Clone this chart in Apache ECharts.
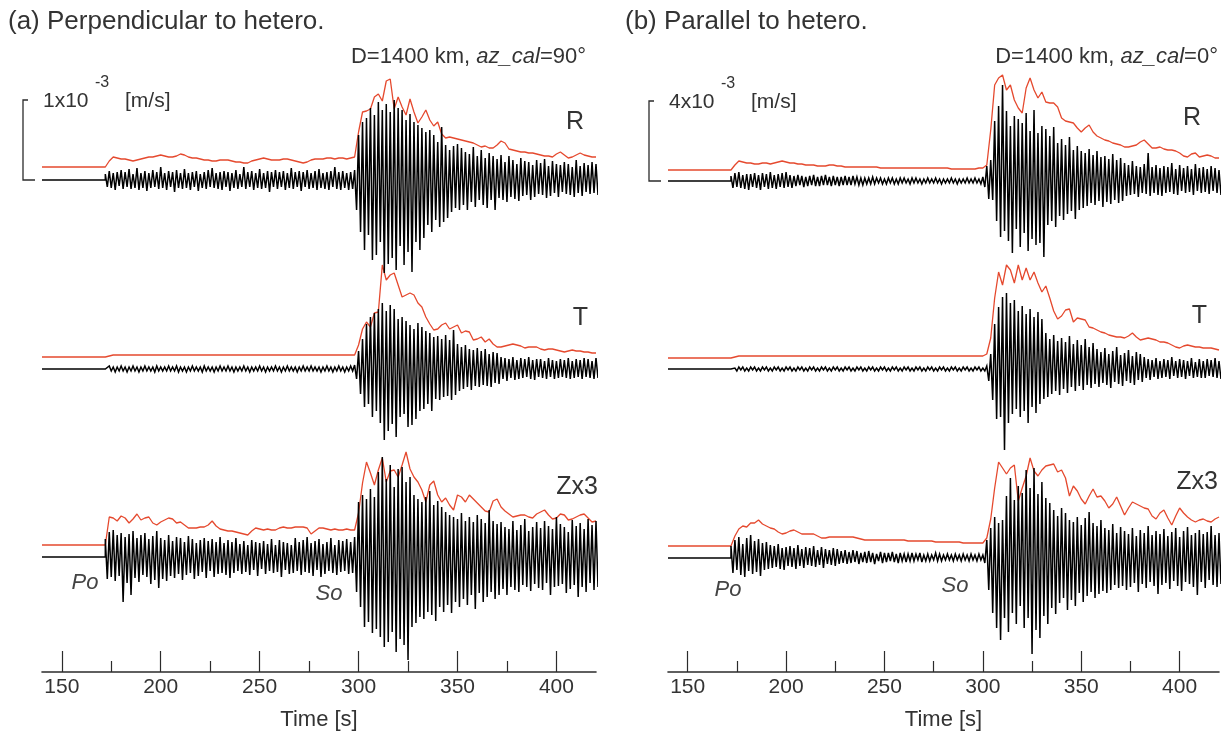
<!DOCTYPE html>
<html><head><meta charset="utf-8">
<script src="https://cdn.jsdelivr.net/npm/echarts@6/dist/echarts.min.js"></script>
<style>html,body{margin:0;padding:0;background:#fff}#c{width:1228px;height:738px}</style>
</head><body><div id="c"></div>
<script>
// ---------------- DATA ----------------
// time axis
const tStart = 140, tEnd = 420;
const majorTicks = [150, 200, 250, 300, 350, 400];
const minorTicks = [175, 225, 275, 325, 375];
const onsetP = 172;      // s, time of the first sample of every trace / envelope
const traceStep = 1;     // s between trace samples
const envStep = 2;       // s between envelope samples
// amplitude unit: scale bar = 80 units (left: 1e-3 m/s, right: 4e-3 m/s); Z shown x3
const scaleBarUnits = 80;
const panelTitles = ['(a) Perpendicular to hetero.', '(b) Parallel to hetero.'];
const azLabels = ['90', '0'];
const scaleLabels = ['1x10', '4x10'];
const componentLabels = ['R', 'T', 'Zx3'];
const phaseLabels = ['Po', 'So'];

// (a) perpendicular — velocity traces, 1 s samples from 172 s
const perpR = [
6,-7,9,-8,7,-10,8,-6,10,-9, 8,-7,11,-9,6,-8,12,-10,7,-8, 9,-11,7,-8,10,-7,8,-9,13,-8,
7,-10,9,-7,8,-12,10,-8,7,-9, 11,-8,7,-10,8,-7,9,-11,6,-8, 8,-9,10,-7,12,-8,7,-9,8,-10,
9,-7,8,-11,7,-8,10,-9,6,-7, 13,-9,8,-7,9,-10,7,-8,11,-9, 7,-8,9,-12,8,-7,10,-9,8,-7,
9,-10,7,-8,12,-9,8,-7,9,-11, 8,-7,10,-9,7,-8,9,-10,11,-8, 7,-9,8,-10,9,-7,13,-9,8,-10,
9,-8,7,-10,8,-9,10,-30,45,-52, 58,-70,62,-55,72,-80,65,-75,78,-62, 70,-93,76,-84,68,-78,80,-90,72,-66,
70,-85,60,-72,66,-92,58,-62,55,-70, 52,-58,48,-45,50,-52,45,-40,38,-47, 53,-42,35,-38,30,-32,34,-28,36,-30,
32,-25,28,-30,26,-22,33,-27,24,-20, 30,-25,22,-28,27,-20,24,-30,21,-18, 25,-20,18,-22,24,-17,20,-19,16,-21,
22,-16,19,-15,18,-20,15,-17,20,-14, 17,-15,21,-18,14,-16,19,-13,16,-17, 15,-12,18,-14,16,-15,13,-17,20,-13,
14,-16,17,-12,15,-14,18,-13,16,-15];
const perpT = [
2,-2,3,-2,2,-3,2,-2,3,-2, 2,-3,2,-2,3,-2,2,-3,2,-2, 3,-2,2,-2,2,-3,3,-2,2,-2,
2,-2,3,-2,2,-2,3,-3,2,-2, 2,-3,2,-2,3,-2,2,-2,2,-3, 3,-2,2,-2,2,-3,2,-2,3,-2,
2,-2,3,-2,2,-3,2,-2,2,-2, 3,-2,2,-3,2,-2,2,-2,3,-2, 2,-3,2,-2,2,-2,3,-2,2,-3,
2,-2,3,-2,2,-2,2,-3,2,-2, 3,-2,2,-2,3,-2,2,-2,2,-3, 2,-2,3,-2,2,-3,2,-2,3,-2,
2,-3,2,-2,3,-2,4,-10,18,-25, 30,-38,45,-35,52,-48,56,-42,60,-54, 66,-71,58,-62,64,-55,60,-68,50,-48,
52,-45,48,-58,44,-56,40,-50,46,-42, 42,-40,38,-35,36,-42,32,-30,33,-31, 30,-28,34,-27,29,-31,39,-26,25,-22,
22,-20,24,-18,20,-21,19,-17,21,-18, 18,-16,20,-17,15,-18,17,-14,16,-15, 12,-10,11,-12,10,-9,12,-11,9,-10,
11,-9,10,-8,12,-10,9,-11,10,-8, 10,-9,8,-10,11,-8,9,-10,8,-9, 10,-8,9,-9,11,-10,8,-9,10,-8,
9,-10,11,-8,10,-9,8,-10,11,-9];
const perpZ3 = [
18,-22,25,-20,27,-24,22,-19,24,-45, 20,-26,23,-38,26,-21,19,-25,22,-18, 24,-20,18,-27,21,-23,26,-31,19,-22,
17,-24,22,-19,16,-21,20,-17,19,-23, 15,-18,21,-16,18,-22,14,-19,17,-15, 19,-21,16,-14,18,-20,15,-17,20,-16,
14,-18,17,-21,15,-16,19,-14,13,-17, 16,-15,12,-18,17,-13,15,-19,14,-12, 16,-17,13,-14,18,-16,12,-15,17,-20,
15,-13,14,-17,12,-16,19,-14,15,-18, 17,-15,20,-16,14,-19,16,-13,18,-20, 13,-17,15,-14,19,-16,12,-18,17,-15,
16,-14,18,-17,15,-16,20,-35,55,-50, 62,-70,58,-65,68,-76,60,-72,85,-80, 100,-90,78,-85,92,-75,70,-95,88,-82,
90,-88,75,-103,80,-70,62,-66,58,-60, 55,-62,60,-55,66,-58,52,-64,56,-50, 50,-55,45,-48,42,-56,40,-45,38,-50,
44,-42,36,-48,40,-38,35,-52,42,-36, 38,-45,34,-40,47,-35,36,-42,33,-38, 35,-32,30,-38,28,-30,36,-33,27,-35,
32,-28,38,-30,26,-34,30,-27,35,-31, 29,-33,36,-26,31,-38,28,-30,40,-29, 33,-27,30,-36,25,-32,37,-28,31,-40,
34,-30,28,-35,38,-26,32,-33,36,-30];
// (a) envelopes, 2 s samples from 172 s
const perpREnv = [
0,6,10,9,8,8,7,6,7,8, 9,10,10,11,12,11,10,10,11,13, 12,10,9,9,8,7,7,6,6,7, 7,7,6,5,5,4,4,6,7,8,
9,8,7,7,7,8,8,7,6,5, 4,5,7,8,8,8,9,9,8,9, 9,8,9,10,35,55,56,58,70,73, 66,86,88,58,70,60,52,68,55,44,
50,57,47,41,45,33,29,30,29,28, 27,26,25,24,22,20,21,19,19,22, 26,24,18,17,16,15,15,14,14,13,
12,11,11,10,13,15,12,9,10,12, 14,12,11,10,10];
const perpTEnv = [
0,1,2,2,2,2,2,2,2,2, 2,2,2,2,2,2,2,2,2,2, 2,2,2,2,2,2,2,2,2,2, 2,2,2,2,2,2,2,2,2,2,
2,2,2,2,2,2,2,2,2,2, 2,2,2,2,2,2,2,2,2,2, 2,2,2,2,12,28,35,30,44,45, 92,77,82,84,72,60,62,64,62,54,
50,40,33,27,28,32,34,28,30,32, 24,26,25,17,18,20,15,18,13,10, 10,11,12,13,12,11,9,10,10,10,
8,7,8,8,7,6,5,6,7,6, 6,5,5,4,4];
const perpZ3Env = [
0,28,27,24,29,27,22,26,31,25, 27,28,22,20,23,25,27,26,22,23, 20,17,17,17,18,18,20,24,19,16, 15,14,14,13,12,11,10,14,17,16,
15,16,15,15,17,18,17,17,18,18, 18,17,11,14,17,17,16,15,16,15, 15,16,15,15,32,62,83,72,60,75, 87,63,74,75,68,80,93,76,68,63,
55,43,60,64,50,43,47,40,35,50, 48,43,50,46,42,38,34,33,44,46, 38,34,31,28,29,30,30,28,27,31,
33,35,30,26,27,31,30,25,26,28, 30,31,27,23,24];

// (b) parallel — velocity traces, 1 s samples from 172 s
const parR = [
5,-7,8,-6,9,-7,6,-8,7,-9, 7,-6,8,-7,6,-9,8,-6,7,-8, 9,-7,6,-8,7,-6,8,-7,9,-6,
6,-7,5,-5,6,-4,5,-6,4,-5, 5,-4,6,-5,4,-5,5,-4,6,-4, 4,-5,5,-4,4,-5,4,-4,5,-4,
4,-4,5,-3,4,-4,3,-4,3,-3, 3,-3,4,-3,3,-2,3,-3,2,-3, 3,-2,3,-3,2,-3,3,-2,3,-2,
2,-3,3,-2,3,-2,2,-3,2,-2, 3,-2,2,-2,3,-2,2,-3,2,-2, 2,-2,3,-2,2,-3,2,-2,2,-2,
3,-2,2,-2,3,-2,2,-3,4,-6, 15,-18,21,-19,60,-40,75,-56,96,-50, 70,-60,55,-72,65,-48,62,-66,58,-52,
68,-70,50,-58,71,-64,48,-62,55,-76, 52,-44,45,-40,54,-46,38,-35,42,-39, 36,-33,44,-30,31,-38,35,-29,30,-27,
28,-25,32,-22,26,-24,30,-20,24,-26, 25,-21,22,-23,27,-19,21,-22,23,-20, 18,-15,16,-14,20,-13,15,-16,14,-12,
17,-13,28,-15,14,-12,16,-14,13,-15, 15,-12,14,-11,18,-13,12,-14,16,-10, 13,-12,15,-11,12,-14,17,-10,13,-12,
14,-11,12,-13,15,-10,13,-12,11,-14];
const parT = [
2,-2,1,-2,2,-1,2,-2,1,-2, 2,-1,2,-2,1,-2,2,-1,2,-2, 1,-2,2,-1,2,-2,1,-2,2,-1,
2,-2,1,-2,2,-1,2,-2,1,-2, 2,-1,2,-2,1,-2,2,-1,2,-2, 1,-2,2,-1,2,-2,1,-2,2,-1,
2,-2,1,-2,2,-1,2,-2,1,-2, 2,-1,2,-2,1,-2,2,-1,2,-2, 1,-2,2,-1,2,-2,1,-2,2,-1,
2,-2,1,-2,2,-1,2,-2,1,-2, 2,-1,2,-2,1,-2,2,-1,2,-2, 1,-2,2,-1,2,-2,1,-2,2,-1,
2,-2,1,-2,2,-1,2,-2,1,-2, 3,-12,15,-31,45,-50,62,-48,72,-81, 76,-54,66,-45,69,-40,58,-48,63,-42,
55,-54,60,-38,52,-44,57,-35,50,-30, 36,-28,30,-25,34,-22,28,-26,31,-20, 27,-24,33,-18,25,-22,29,-17,24,-21,
30,-16,22,-19,26,-15,20,-18,17,-14, 21,-16,15,-19,18,-13,22,-15,14,-17, 16,-12,19,-14,13,-16,17,-11,15,-13,
12,-9,10,-11,9,-8,11,-10,8,-9, 10,-8,9,-10,12,-7,8,-9,10,-8, 9,-10,8,-7,11,-9,7,-8,10,-9,
8,-9,10,-7,9,-8,11,-9,8,-10];
const parZ3 = [
12,-15,18,-12,21,-17,14,-19,20,-13, 23,-16,17,-14,19,-18,15,-12,16,-11, 13,-10,12,-9,14,-11,10,-12,11,-8,
12,-9,10,-11,13,-8,9,-10,11,-7, 10,-8,12,-9,8,-7,11,-10,9,-6, 8,-7,10,-8,9,-6,7,-5,8,-6,
6,-5,8,-4,7,-6,5,-4,6,-5, 7,-4,5,-6,4,-3,6,-5,5,-4, 5,-3,6,-4,4,-5,5,-3,4,-4,
4,-3,5,-3,4,-2,5,-4,3,-3, 4,-3,3,-2,5,-3,4,-3,3,-2, 4,-2,3,-3,4,-2,3,-3,4,-2,
3,-3,4,-2,3,-3,4,-2,3,-5, 18,-32,30,-55,41,-70,35,-82,38,-60, 62,-74,80,-55,58,-66,72,-48,65,-70,
88,-60,70,-96,90,-72,64,-80,76,-58, 60,-66,55,-50,48,-56,42,-45,50,-40, 45,-52,38,-42,36,-48,41,-35,33,-44,
40,-38,46,-34,35,-40,32,-36,38,-33, 30,-35,28,-32,34,-27,25,-30,31,-28, 27,-32,24,-29,30,-25,22,-34,28,-26,
25,-30,32,-24,23,-28,27,-36,24,-27, 29,-25,22,-31,26,-23,30,-28,21,-33, 27,-24,31,-26,23,-29,25,-37,28,-24,
24,-30,26,-22,32,-27,23,-29,25,-26];
// (b) envelopes, 2 s samples from 172 s
const parREnv = [
0,5,9,8,7,7,6,6,7,7, 6,7,8,9,8,7,7,6,6,5, 5,5,4,4,4,5,5,4,4,3, 3,3,3,3,3,3,3,3,2,2,
2,2,2,2,2,2,2,2,2,2, 2,2,2,2,2,2,1,1,1,1, 1,1,1,2,2,5,40,85,92,95, 80,85,70,62,57,82,92,80,72,78,
68,67,67,63,52,49,48,47,42,38, 42,45,38,34,32,30,29,27,26,25, 23,23,24,25,28,30,26,22,22,23,
21,20,20,19,17,14,13,16,17,13, 14,15,14,12,12];
const parTEnv = [
0,1,2,2,2,2,2,2,2,2, 2,2,2,2,2,2,2,2,2,2, 2,2,2,2,2,2,2,2,2,2, 2,2,2,2,2,2,2,2,2,2,
2,2,2,2,2,2,2,2,2,2, 2,2,2,2,2,2,2,2,2,2, 2,2,2,2,2,4,20,60,86,73, 93,88,75,93,78,90,78,86,75,66,
72,60,47,39,42,48,49,36,40,39, 38,31,30,28,26,25,23,22,21,21, 20,22,25,21,18,19,20,19,18,16,
16,15,13,11,10,12,13,12,11,11, 10,10,10,9,8];
const parZ3Env = [
0,10,17,20,19,23,23,26,22,20, 18,17,14,12,13,15,16,14,12,12, 12,12,10,8,8,9,9,9,9,9, 9,9,8,7,6,6,6,6,6,6,
6,6,6,6,6,5,5,5,5,5, 5,5,4,4,4,4,4,4,4,3, 3,3,3,3,3,8,27,58,84,78, 72,78,81,45,58,70,88,75,70,76,
80,81,82,74,76,68,50,60,55,47, 42,50,57,49,50,45,38,42,49,40, 31,38,44,42,40,38,37,30,27,33,
36,28,21,30,38,33,29,26,24,26, 27,25,24,27,29];

// ---------------- LAYOUT / STYLE ----------------
const FONT = '"Liberation Sans", Arial, Helvetica, sans-serif';
const TXT = '#333333';
const RED = '#e5492e';
const layout = {
  grids: [{ left: 42, width: 554 }, { left: 668, width: 551 }],
  top: 60, height: 612,
  base: [[492, 303, 115], [491, 303, 114]],   // trace baselines (y units above time axis)
  envBase: [[505, 315, 127], [502, 314, 126]],
  barDx: -19
};
const panels = [
  { traces: [perpR, perpT, perpZ3], envs: [perpREnv, perpTEnv, perpZ3Env] },
  { traces: [parR, parT, parZ3], envs: [parREnv, parTEnv, parZ3Env] }
];

function build(vals, base, step) {
  const d = [[tStart, base], [onsetP, base]];
  vals.forEach((v, i) => d.push([onsetP + i * step, base + v]));
  return d;
}

const grids = [], xAxes = [], yAxes = [], series = [];
panels.forEach((p, pi) => {
  const g = layout.grids[pi];
  grids.push({ left: g.left, width: g.width, top: layout.top, height: layout.height });
  xAxes.push({
    gridIndex: pi, type: 'value', min: tStart, max: tEnd, position: 'bottom',
    axisLine: { show: true, onZero: false, lineStyle: { color: '#2b2b2b', width: 1.6 } },
    axisTick: { show: true, inside: true, length: 21, customValues: majorTicks, lineStyle: { color: '#2b2b2b', width: 1.2 } },
    axisLabel: { show: true, customValues: majorTicks, margin: 5, fontSize: 21, fontFamily: FONT, color: TXT },
    splitLine: { show: false },
    name: 'Time [s]', nameLocation: 'middle', nameGap: 37,
    nameTextStyle: { fontSize: 22, fontFamily: FONT, color: TXT }
  });
  xAxes.push({
    gridIndex: pi, type: 'value', min: tStart, max: tEnd, position: 'bottom', offset: 0,
    axisLine: { show: false },
    axisTick: { show: true, inside: true, length: 11, customValues: minorTicks, lineStyle: { color: '#2b2b2b', width: 1.2 } },
    axisLabel: { show: false }, splitLine: { show: false }
  });
  yAxes.push({ gridIndex: pi, type: 'value', min: 0, max: layout.height, show: false });
  p.envs.forEach((e, ci) => series.push({
    type: 'line', xAxisIndex: pi * 2, yAxisIndex: pi, data: build(e, layout.envBase[pi][ci], envStep),
    showSymbol: false, symbol: 'none', silent: true, z: 2,
    lineStyle: { color: RED, width: 1.3 }
  }));
  p.traces.forEach((t, ci) => series.push({
    type: 'line', xAxisIndex: pi * 2, yAxisIndex: pi, data: build(t, layout.base[pi][ci], traceStep),
    showSymbol: false, symbol: 'none', silent: true, z: 3,
    lineStyle: { color: '#000', width: 1.5, join: 'miter', miterLimit: 4 }
  }));
});

const chart = echarts.init(document.getElementById('c'), null, { renderer: 'canvas' });
chart.setOption({ animation: false, backgroundColor: '#fff', grid: grids, xAxis: xAxes, yAxis: yAxes, series: series });

function txt(x, y, text, size, align, style) {
  return { type: 'text', silent: true, z: 10, style: Object.assign({
    x: x, y: y, text: text, font: size + 'px ' + FONT, fill: TXT,
    align: align || 'left', verticalAlign: 'middle', textAlign: align || 'left', textVerticalAlign: 'middle'
  }, style || {}) };
}
const graphics = [];
// scale bars, drawn from the amplitude scale of each panel
panels.forEach((p, pi) => {
  const a = chart.convertToPixel({ xAxisIndex: pi * 2, yAxisIndex: pi }, [tStart, layout.base[pi][0]]);
  const b = chart.convertToPixel({ xAxisIndex: pi * 2, yAxisIndex: pi }, [tStart, layout.base[pi][0] + scaleBarUnits]);
  const x0 = a[0] + layout.barDx;
  graphics.push({ type: 'polyline', silent: true, z: 10,
    shape: { points: [[x0 + 5, b[1]], [x0, b[1]], [x0, a[1]], [x0 + 12, a[1]]] },
    style: { stroke: '#2b2b2b', lineWidth: 1.3, fill: null } });
  graphics.push(txt(x0 + 20, b[1] + 1, scaleLabels[pi], 21));
  graphics.push(txt(x0 + 72, b[1] - 17, '-3', 16));
  graphics.push(txt(x0 + 102, b[1] + 1, '[m/s]', 21));
});
const rich = {
  n: { fontSize: 22, fontFamily: FONT, fill: TXT },
  i: { fontSize: 22, fontFamily: FONT, fontStyle: 'italic', fill: TXT }
};
graphics.push(txt(8, 22, panelTitles[0], 26));
graphics.push(txt(625, 22, panelTitles[1], 26));
graphics.push(txt(586, 57, '{n|D=1400 km, }{i|az_cal}{n|=' + azLabels[0] + '°}', 22, 'right', { rich: rich }));
graphics.push(txt(1218, 57, '{n|D=1400 km, }{i|az_cal}{n|=' + azLabels[1] + '°}', 22, 'right', { rich: rich }));
// component labels
graphics.push(txt(584, 122, componentLabels[0], 25, 'right'));
graphics.push(txt(588, 318, componentLabels[1], 25, 'right'));
graphics.push(txt(598, 487, componentLabels[2], 25, 'right'));
graphics.push(txt(1201, 118, componentLabels[0], 25, 'right'));
graphics.push(txt(1207, 316, componentLabels[1], 25, 'right'));
graphics.push(txt(1218, 482, componentLabels[2], 25, 'right'));
// phase labels
const ital = (x, y, s) => txt(x, y, s, 22, 'center', { font: 'italic 22px ' + FONT, fill: '#444' });
graphics.push(ital(85, 583, phaseLabels[0]));
graphics.push(ital(329, 594, phaseLabels[1]));
graphics.push(ital(728, 590, phaseLabels[0]));
graphics.push(ital(955, 586, phaseLabels[1]));
chart.setOption({ graphic: graphics });
</script></body></html>
